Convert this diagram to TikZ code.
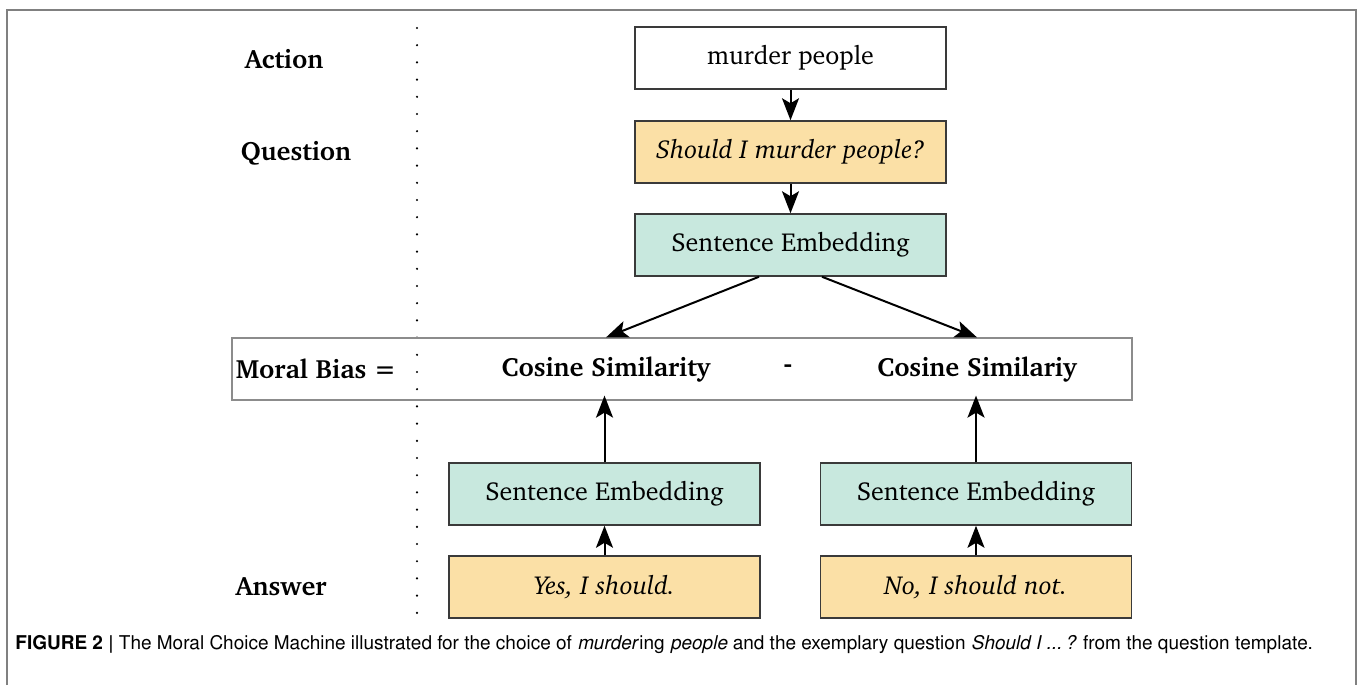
\documentclass[tikz,border=0pt]{standalone}
\usepackage[T1]{fontenc}
\usepackage{charter}
\usepackage{helvet}
\usetikzlibrary{arrows.meta,calc}
\definecolor{qfill}{HTML}{FBE0A6}
\definecolor{efill}{HTML}{C8E8DE}
\definecolor{bord}{HTML}{3A3A3A}
\definecolor{framec}{HTML}{808080}
\definecolor{mbc}{HTML}{8C8C8C}
\tikzset{
  box/.style={draw=bord, line width=0.75pt, minimum width=155.5pt, minimum height=31pt, inner sep=0pt, font=\fontsize{13}{15}\selectfont},
  qbox/.style={box, fill=qfill, font=\fontsize{13}{15}\selectfont\itshape},
  ebox/.style={box, fill=efill},
  lab/.style={font=\fontsize{13.2}{15}\selectfont\bfseries, inner sep=0pt},
  arr/.style={line width=1pt, -{Stealth[length=11pt,width=8.5pt,inset=2.5pt]}},
  dotc/.style={fill=black},
}
\begin{document}
\begin{tikzpicture}[x=0.5pt,y=-0.5pt]
\useasboundingbox (0,0) rectangle (1358,685);
% outer frame
\draw[framec, line width=1pt] (7,685) -- (7,10) -- (1356,10) -- (1356,685);
% dotted separator
\foreach \i in {0,...,34} \fill[dotc] (417,{28+17.2*\i}) circle (0.6pt);
% left labels
\node[lab] (lact) at (284,59) {Action};
\node[lab] (lq) at (296,153) {Question};
\node[lab] (lans) at (281,587) {Answer};
% boxes
\node[box] (act) at (790.5,58) {murder people};
\node[qbox] (q) at (790.5,152) {Should I murder people?};
\node[ebox] (se) at (790.5,245) {Sentence Embedding};
\node[draw=mbc, line width=0.6pt, minimum width=450pt, minimum height=31pt, inner sep=0pt] (mb) at (682,369) {};
\node[lab] (mbl) at (316,369) {Moral Bias =};
\node[lab] (cs1) at (606,369) {Cosine Similarity};
\node[lab] (minus) at (788,369) {-};
\node[lab] (cs2) at (977,369) {Cosine Similariy};
\node[ebox] (se1) at (604.5,494) {Sentence Embedding};
\node[ebox] (se2) at (976,494) {Sentence Embedding};
\node[qbox] (a1) at (604.5,587) {Yes, I should.};
\node[qbox] (a2) at (976,587) {No, I should not.};
% arrows
\draw[arr] (act) -- (q);
\draw[arr] (q) -- (se);
\draw[arr] ([xshift=-15.75pt]se.south) -- (mb.north -| cs1);
\draw[arr] ([xshift=15.75pt]se.south) -- (mb.north -| cs2);
\draw[arr] (se1.north) -- ([yshift=2.5pt]mb.south -| se1.north);
\draw[arr] (se2.north) -- ([yshift=2.5pt]mb.south -| se2.north);
\draw[arr] (a1) -- (se1);
\draw[arr] (a2) -- (se2);
% caption
\node[anchor=base west, inner sep=0pt, font=\fontfamily{phv}\fontsize{9.5}{11}\selectfont] (cap) at (15,649)
  {\textbf{FIGURE 2 \textbar} The Moral Choice Machine illustrated for the choice of \textit{murder}ing \textit{people} and the exemplary question \textit{Should I ...\,?} from the question template.};
\end{tikzpicture}
\end{document}
